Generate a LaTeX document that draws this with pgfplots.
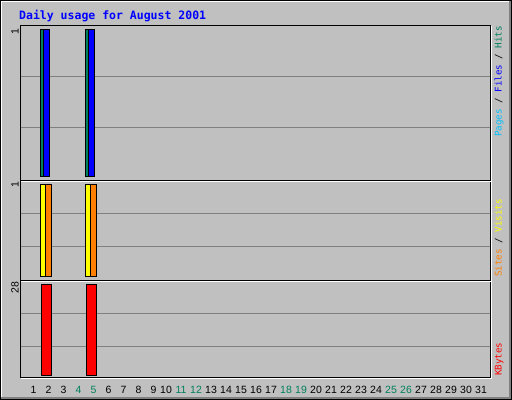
\documentclass[border=0pt]{standalone}
\usepackage{fontspec}
\setmainfont{Liberation Sans}
\newfontfamily\monofont{DejaVu Sans Mono}
\usepackage{pgfplots}
\usepackage{pgfplotstable}
\pgfplotsset{compat=1.18}

\definecolor{bg}{HTML}{C0C0C0}
\definecolor{wgray}{HTML}{808080}
\definecolor{hitc}{HTML}{00805C}
\definecolor{filec}{HTML}{0000FF}
\definecolor{pagec}{HTML}{00C0FF}
\definecolor{visitc}{HTML}{FFFF00}
\definecolor{sitec}{HTML}{FF8000}
\definecolor{kbytec}{HTML}{FF0000}

% daily values, August 2001 (days without traffic are zero)
\pgfplotstableread{
day hits files pages visits sites kbytes
2   1    1     0     1      1     28
5   1    1     0     1      1     28
}\usagedata

% double-digit day labels sit a bit to the left
\newcommand\dd[1]{\kern-5bp#1}
\newcommand\we[1]{\textcolor{hitc}{#1}}

\pgfplotsset{
  panel/.style={
    scale only axis, width=471bp, anchor=north west,
    xmin=0.1, xmax=31.5,
    axis line style={draw=none},
    major tick length=0pt,
    xtick=\empty,
    yticklabels={},
    ymajorgrids,
    grid style={draw=wgray, line width=1bp},
  },
  wbar/.style={ybar, draw=black, line width=1bp},
}

\begin{document}
\begin{tikzpicture}
\useasboundingbox (0,0) rectangle (512bp,-400bp);
\fill[bg] (0,0) rectangle (512bp,-400bp);

% Pages / Files / Hits
\begin{axis}[panel, at={(20bp,-25bp)}, height=155bp,
  ymin=-0.026, ymax=1.0328, ytick={0.333,0.679}]
\addplot[wbar, fill=hitc, bar width=9bp, bar shift=-3.5bp]
  table[x=day, y=hits] {\usagedata};
\addplot[wbar, fill=filec, bar width=6.5bp, bar shift=-2.25bp]
  table[x=day, y=files] {\usagedata};
\end{axis}

% Sites / Visits
\begin{axis}[panel, at={(20bp,-180bp)}, height=100bp,
  ymin=-0.0414, ymax=1.049, ytick={0.321,0.684}]
\addplot[wbar, fill=visitc, bar width=9bp, bar shift=-3.5bp]
  table[x=day, y=visits] {\usagedata};
\addplot[wbar, fill=sitec, bar width=6bp, bar shift=-0.3bp]
  table[x=day, y=sites] {\usagedata};
\end{axis}

% KBytes
\begin{axis}[panel, at={(20bp,-280bp)}, height=98bp,
  ymin=-0.864, ymax=29.389, ytick={8.86,18.96},
  xtick={1,...,31},
  xticklabels={1,2,3,\we{4},\we{5},6,7,8,9,\dd{10},\dd{\we{11}},\dd{\we{12}},
    \dd{13},\dd{14},\dd{15},\dd{16},\dd{17},\dd{\we{18}},\dd{\we{19}},\dd{20},
    \dd{21},\dd{22},\dd{23},\dd{24},\dd{\we{25}},\dd{\we{26}},\dd{27},\dd{28},
    \dd{29},\dd{30},\dd{31}},
  xticklabel style={font=\fontsize{10.5bp}{12bp}\selectfont,
    inner sep=0pt, anchor=north, yshift=-7.7bp}]
\addplot[wbar, fill=kbytec, bar width=9.4bp, bar shift=-2bp]
  table[x=day, y=kbytes] {\usagedata};
\end{axis}

% outer frame
\draw[black, line width=1bp] (0.5bp,-0.5bp) rectangle (511.5bp,-399.5bp);
\draw[white, line width=1bp] (1.5bp,-397bp) -- (1.5bp,-1.5bp) -- (509bp,-1.5bp);
\draw[wgray, line width=2bp] (510bp,-1bp) -- (510bp,-398bp) -- (1bp,-398bp);

% plot frame and panel separators
\draw[black, line width=1bp] (20.5bp,-25.5bp) rectangle (490.5bp,-377.5bp);
\draw[white, line width=1bp] (21bp,-378.5bp) -- (491.5bp,-378.5bp) -- (491.5bp,-26bp);
\draw[black, line width=1bp] (20bp,-180.5bp) -- (491bp,-180.5bp);
\draw[white, line width=1bp] (21bp,-181.5bp) -- (491bp,-181.5bp);
\draw[black, line width=1bp] (20bp,-280.5bp) -- (491bp,-280.5bp);
\draw[white, line width=1bp] (21bp,-281.5bp) -- (491bp,-281.5bp);

% title
\node[anchor=base west, inner sep=0pt, text=filec,
  font=\monofont\bfseries\fontsize{11.5bp}{13bp}\selectfont]
  at (19bp,-19bp) {Daily usage for August 2001};

% maximum values on the left
\begin{scope}[every node/.style={rotate=90, anchor=base east, inner sep=0pt,
  font=\fontsize{10.5bp}{12bp}\selectfont}]
\node at (18.5bp,-28.3bp) {1};
\node at (18.5bp,-181bp) {1};
\node at (18.5bp,-281.7bp) {28};
\end{scope}

% series names on the right
\begin{scope}[every node/.style={rotate=90, anchor=base west, inner sep=0pt,
  font=\monofont\fontsize{9.2bp}{10bp}\selectfont}]
\node at (501.5bp,-137bp) {\textcolor{pagec}{Pages} / \textcolor{filec}{Files} / \textcolor{hitc}{Hits}};
\node at (501.5bp,-277bp) {\textcolor{sitec}{Sites} / \textcolor{visitc}{Visits}};
\node at (501.5bp,-376bp) {\textcolor{kbytec}{KBytes}};
\end{scope}
\end{tikzpicture}
\end{document}
